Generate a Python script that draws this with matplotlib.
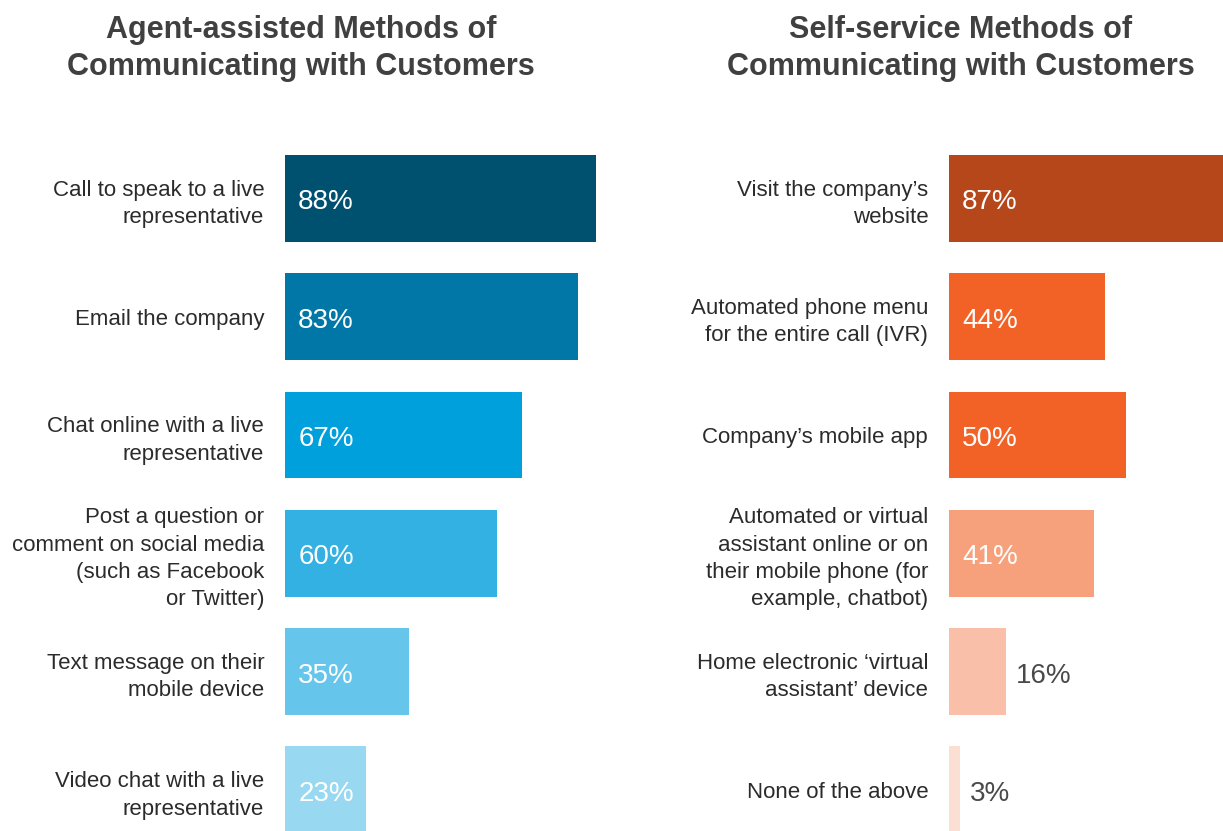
import matplotlib.pyplot as plt

plt.rcParams['font.family'] = ['Liberation Sans', 'DejaVu Sans']

# Agent-assisted channels
agent_labels = ['Call to speak to a live\nrepresentative',
                'Email the company',
                'Chat online with a live\nrepresentative',
                'Post a question or\ncomment on social media\n(such as Facebook\nor Twitter)',
                'Text message on their\nmobile device',
                'Video chat with a live\nrepresentative']
agent_values = [88, 83, 67, 60, 35, 23]
agent_colors = ['#00516F', '#0077A6', '#00A0DD', '#33B1E3', '#66C5EA', '#99D8F1']

# Self-service channels
self_labels = ['Visit the company\u2019s\nwebsite',
               'Automated phone menu\nfor the entire call (IVR)',
               'Company\u2019s mobile app',
               'Automated or virtual\nassistant online or on\ntheir mobile phone (for\nexample, chatbot)',
               'Home electronic \u2018virtual\nassistant\u2019 device',
               'None of the above']
self_values = [87, 44, 50, 41, 16, 3]
self_colors = ['#B5471B', '#F26125', '#F26125', '#F7A07C', '#F9BFA8', '#FCDFD3']

W, H = 1223, 831
fig = plt.figure(figsize=(W / 100, H / 100), dpi=100)

px_per_pct = 3.535
row_h = 118.3
first_center = 198.3
ax_top = 140


def draw_panel(x0, x1, labels, values, colors, title, title_x):
    ax = fig.add_axes([x0 / W, 0, (x1 - x0) / W, (H - ax_top) / H])
    pos = list(range(len(values)))
    ax.barh(pos, values, height=0.733, color=colors)
    ax.set_xlim(0, (x1 - x0) / px_per_pct)
    ax.set_ylim((H - first_center) / row_h, (ax_top - first_center) / row_h)
    ax.set_yticks(pos)
    ax.set_yticklabels(labels, fontsize=16, color='#2b2b2b', linespacing=1.4)
    ax.tick_params(axis='y', length=0, pad=15)
    ax.set_xticks([])
    for s in ax.spines.values():
        s.set_visible(False)
    for p, v in zip(pos, values):
        if v >= 20:
            ax.annotate(f'{v}%', (0, p), xytext=(9.5, -3), textcoords='offset points',
                        ha='left', va='center', fontsize=20, color='white')
        else:
            ax.annotate(f'{v}%', (v, p), xytext=(7.5, -3), textcoords='offset points',
                        ha='left', va='center', fontsize=20, color='#4a4a4a')
    fig.text(title_x / W, 1 - 15 / H, title, ha='center', va='top',
             fontsize=22, fontweight='bold', color='#404040', linespacing=1.3)
    return ax


draw_panel(285, 640, agent_labels, agent_values, agent_colors,
           'Agent-assisted Methods of\nCommunicating with Customers', 301)
draw_panel(949, 1223, self_labels, self_values, self_colors,
           'Self-service Methods of\nCommunicating with Customers', 961)

fig.savefig('out.png', dpi=100)
